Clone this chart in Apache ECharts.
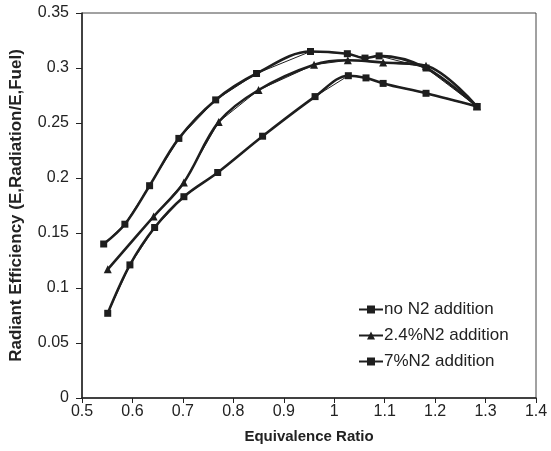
<!DOCTYPE html>
<html>
<head>
<meta charset="utf-8">
<script src="https://cdn.jsdelivr.net/npm/echarts@6/dist/echarts.min.js"></script>
<style>html,body{margin:0;padding:0;background:#fff;}#c{width:551px;height:451px;}</style>
</head>
<body>
<div id="c"></div>
<script>
// Equivalence ratio / efficiency pairs
const noN2X   = [0.543, 0.585, 0.634, 0.692, 0.765, 0.846, 0.953, 1.026, 1.061, 1.089, 1.182, 1.283];
const noN2Y   = [0.140, 0.158, 0.193, 0.236, 0.271, 0.295, 0.315, 0.313, 0.309, 0.311, 0.300, 0.265];
const n24X    = [0.551, 0.642, 0.702, 0.771, 0.850, 0.960, 1.027, 1.097, 1.182, 1.283];
const n24Y    = [0.117, 0.165, 0.196, 0.251, 0.280, 0.303, 0.307, 0.305, 0.302, 0.265];
const n7X     = [0.551, 0.595, 0.644, 0.702, 0.769, 0.858, 0.962, 1.028, 1.063, 1.097, 1.182, 1.283];
const n7Y     = [0.077, 0.121, 0.155, 0.183, 0.205, 0.238, 0.274, 0.293, 0.291, 0.286, 0.277, 0.265];
const seriesNames = ['no N2 addition', '2.4%N2 addition', '7%N2 addition'];
const xTicks = [0.5, 1.4, 0.1];
const yTicks = [0, 0.35, 0.05];

const pair = (xs, ys) => xs.map((x, i) => [x, ys[i]]);
const ink = '#1e1e1e';
const font = 'Liberation Sans, Arial, sans-serif';

function markerSeries(name, data, symbol) {
  return {
    name: name, type: 'line', data: data, smooth: false,
    symbol: symbol, symbolSize: symbol === 'triangle' ? 8 : 7,
    lineStyle: { color: ink, width: 1 },
    itemStyle: { color: ink },
    z: 3
  };
}
function curveSeries(name, data) {
  return {
    name: name + ' fit', type: 'line', data: data, smooth: 0.35,
    symbol: 'none', lineStyle: { color: ink, width: 2.6 },
    itemStyle: { color: ink }, z: 2, silent: true
  };
}

const d1 = pair(noN2X, noN2Y), d2 = pair(n24X, n24Y), d3 = pair(n7X, n7Y);
const chart = echarts.init(document.getElementById('c'), null, { renderer: 'canvas' });
chart.setOption({
  animation: false,
  backgroundColor: '#fff',
  textStyle: { fontFamily: font },
  grid: { left: 82, right: 15, top: 13, bottom: 53, show: true, borderColor: '#444', borderWidth: 1 },
  legend: {
    data: seriesNames.map(n => ({ name: n })),
    orient: 'vertical', left: 353, top: 296, itemGap: 9,
    itemWidth: 24, itemHeight: 10,
    textStyle: { fontFamily: font, fontSize: 17, color: '#222', padding: [0, 0, 0, -4] },
  },
  xAxis: {
    type: 'value', min: xTicks[0], max: xTicks[1], interval: xTicks[2],
    name: 'Equivalence Ratio', nameLocation: 'middle', nameGap: 31,
    nameTextStyle: { fontFamily: font, fontSize: 15, fontWeight: 'bold', color: '#222' },
    axisLine: { lineStyle: { color: '#222', width: 1.5 } },
    axisTick: { show: true, inside: false, length: 5, lineStyle: { color: '#222' } },
    axisLabel: { fontSize: 16, color: '#222', margin: 6 },
    splitLine: { show: false }
  },
  yAxis: {
    type: 'value', min: yTicks[0], max: yTicks[1], interval: yTicks[2],
    name: 'Radiant Efficiency (E,Radiation/E,Fuel)', nameLocation: 'middle', nameGap: 57,
    nameTextStyle: { fontFamily: font, fontSize: 17, fontWeight: 'bold', color: '#222' },
    axisLine: { show: true, lineStyle: { color: '#222', width: 1.5 } },
    axisTick: { show: true, inside: false, length: 6, lineStyle: { color: '#222' } },
    axisLabel: { fontSize: 16, color: '#222', margin: 13 },
    splitLine: { show: false }
  },
  series: [
    curveSeries(seriesNames[0], d1),
    curveSeries(seriesNames[1], d2),
    curveSeries(seriesNames[2], d3),
    markerSeries(seriesNames[0], d1, 'rect'),
    markerSeries(seriesNames[1], d2, 'triangle'),
    markerSeries(seriesNames[2], d3, 'rect')
  ]
});
</script>
</body>
</html>
